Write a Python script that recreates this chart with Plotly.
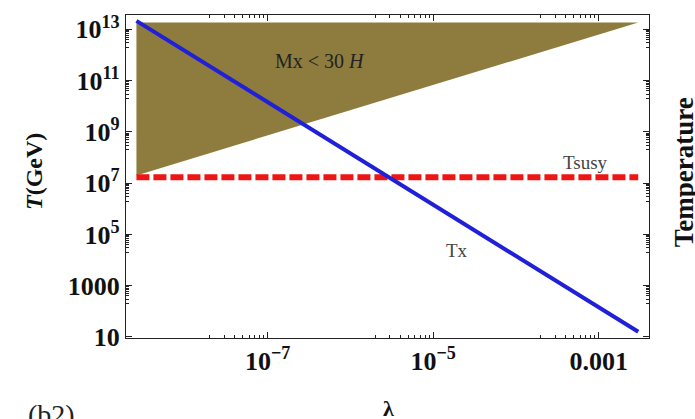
import plotly.graph_objects as go

# ---- data ----
lam_region = [2.6e-9, 2.6e-9, 3.0e-3, 2.6e-9]
T_region = [2.0e7, 1.86e13, 1.86e13, 2.0e7]

lam_tx = [2.6e-9, 3.0e-3]
T_tx = [2.15e13, 1.6e1]

lam_susy = [2.6e-9, 3.0e-3]
T_susy = [1.7e7, 1.7e7]

x_tickvals = [1e-7, 1e-5, 1e-3]
x_ticktext = ["10<sup>\u22127</sup>", "10<sup>\u22125</sup>", "0.001"]
y_tickvals = [1e1, 1e3, 1e5, 1e7, 1e9, 1e11, 1e13]
y_ticktext = ["10", "1000", "10<sup>5</sup>", "10<sup>7</sup>", "10<sup>9</sup>",
              "10<sup>11</sup>", "10<sup>13</sup>"]

x_minor = [m * 10.0 ** (k - 1) for k in (-7, -5, -3) for m in range(2, 10)]
y_minor = [m * 10.0 ** (k - 1) for k in (1, 3, 5, 7, 9, 11, 13) for m in range(2, 10)]

SERIF = "Liberation Serif"

fig = go.Figure()
fig.add_trace(go.Scatter(x=lam_region, y=T_region, mode="lines", fill="toself",
                         fillcolor="#8d7c3d", line=dict(width=0, color="#8d7c3d"),
                         hoverinfo="skip", showlegend=False))
fig.add_trace(go.Scatter(x=lam_susy, y=T_susy, mode="lines",
                         line=dict(color="#ee1515", width=6, dash="13px,4px"),
                         showlegend=False))
fig.add_trace(go.Scatter(x=lam_tx, y=T_tx, mode="lines",
                         line=dict(color="#2020d8", width=4),
                         showlegend=False))

axis_common = dict(
    type="log", showgrid=False, zeroline=False, showline=True,
    linecolor="#222", linewidth=1.3, mirror="allticks",
    ticks="inside", ticklen=6, tickwidth=1.3, tickcolor="#222",
    tickmode="array",
    tickfont=dict(family=SERIF, size=26, color="#111", weight="bold"),
)

fig.update_xaxes(**axis_common, range=[-8.711, -2.393],
                 tickvals=x_tickvals, ticktext=x_ticktext,
                 minor=dict(tickmode="array", tickvals=x_minor, ticks="inside",
                            ticklen=3, tickwidth=1, tickcolor="#222", showgrid=False))
fig.update_yaxes(**axis_common, range=[0.96, 13.56],
                 tickvals=y_tickvals, ticktext=y_ticktext,
                 minor=dict(tickmode="array", tickvals=y_minor, ticks="inside",
                            ticklen=3, tickwidth=1, tickcolor="#222", showgrid=False))

def ann(text, x, y, size, color="#222", angle=0):
    fig.add_annotation(text=text, x=x, y=y, xref="paper", yref="paper",
                       showarrow=False, textangle=angle,
                       xanchor="center", yanchor="middle",
                       font=dict(family=SERIF, size=size, color=color))

ann("Mx &lt; 30 <i>H</i>", 0.371, 0.857, 20, "#222")
ann("Tsusy", 0.878, 0.544, 19, "#444")
ann("Tx", 0.633, 0.271, 19, "#444")
ann("<b><i>T</i>(GeV)</b>", -0.176, 0.517, 24, "#111", -90)
ann("<b>\u03bb</b>", 0.501, -0.218, 22, "#111")
ann("(b2)", -0.143, -0.237, 28, "#222")
ann("<b>Temperature</b>", 1.067, 0.513, 27, "#111", -90)

fig.update_layout(
    width=695, height=419,
    margin=dict(l=126, r=46, t=15, b=81.3, pad=0),
    paper_bgcolor="white", plot_bgcolor="white",
    showlegend=False,
)

fig.write_html("out.html")
